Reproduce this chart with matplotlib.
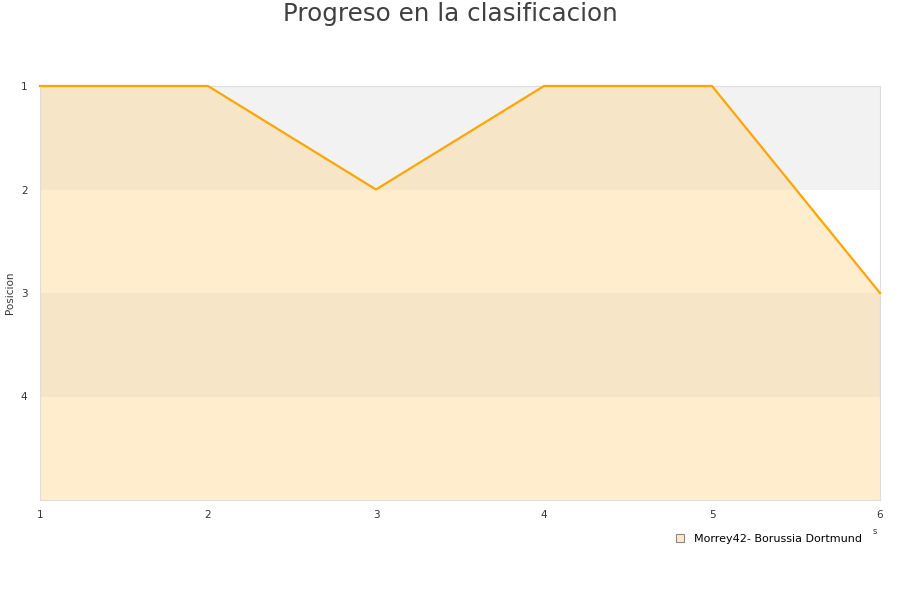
import matplotlib
matplotlib.use("Agg")
import matplotlib.pyplot as plt
from matplotlib.patches import Patch

jornadas = [1, 2, 3, 4, 5, 6]
posicion = [1, 1, 2, 1, 1, 3]
serie = "Morrey42- Borussia Dortmund"
y_ticks = [1, 2, 3, 4]

fig = plt.figure(figsize=(9, 6), dpi=100)
ax = fig.add_axes([40/900, 100/600, 840/900, 414/600])

# background bands
for lo, hi, c in [(1, 2, '#f2f2f2'), (2, 3, '#ffffff'), (3, 4, '#f2f2f2'), (4, 5, '#ffffff')]:
    ax.axhspan(lo, hi, color=c, zorder=0, lw=0)

ax.fill_between(jornadas, posicion, 5, color='#ffd27f', alpha=0.38, lw=0, zorder=1)
ax.plot(jornadas, posicion, color='#ffa500', lw=1.6, zorder=3, clip_on=False)

ax.set_xlim(1, 6)
ax.set_ylim(5, 1)
ax.set_xticks(jornadas)
ax.set_yticks(y_ticks)
ax.tick_params(length=0, labelsize=7.5, colors='#333333', pad=7)
ax.tick_params(axis='y', pad=9)
for s in ax.spines.values():
    s.set_color('#dddddd')
    s.set_linewidth(0.8)

fig.text(10/900, 1 - 293/600, 'Posicion', rotation=90, ha='center', va='center',
         fontsize=7.5, color='#333333')

fig.text(0.5, 0.997, 'Progreso en la clasificacion', ha='center', va='top',
         fontsize=17.7, color='#404040')

fig.text(875/900, 1 - 532/600, 's', fontsize=6, color='#333333', ha='center', va='center')

fig.legend(handles=[Patch(facecolor='#fdeac6', edgecolor='#888888', lw=0.8, label=serie)],
           loc='center left', bbox_to_anchor=(676/900, 1 - 539/600), frameon=False,
           fontsize=8, handlelength=0.7, handleheight=0.7, handletextpad=0.9,
           borderpad=0, borderaxespad=0)

fig.savefig('out.png', dpi=100)
